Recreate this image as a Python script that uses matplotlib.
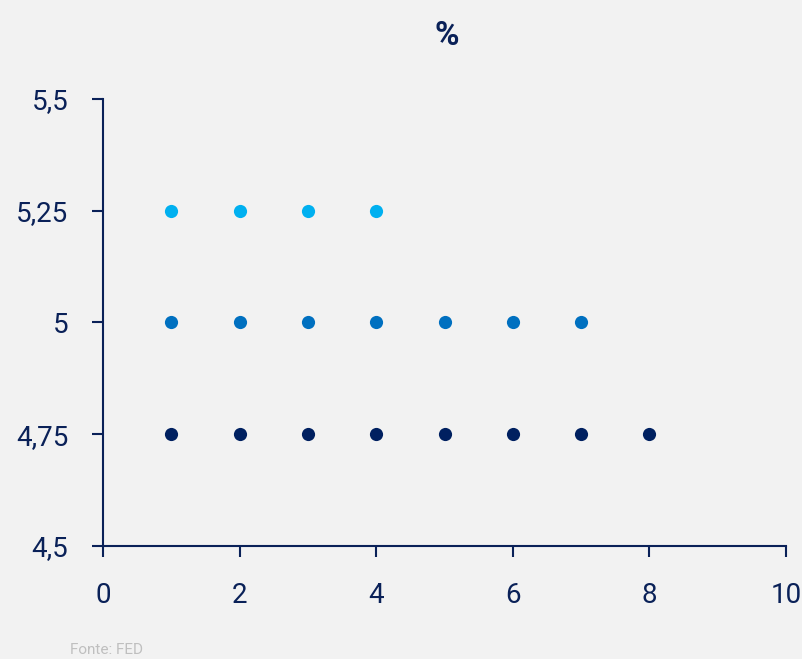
import matplotlib.pyplot as plt

# dados
x_475 = [1, 2, 3, 4, 5, 6, 7, 8]
y_475 = [4.75] * len(x_475)
x_500 = [1, 2, 3, 4, 5, 6, 7]
y_500 = [5.0] * len(x_500)
x_525 = [1, 2, 3, 4]
y_525 = [5.25] * len(x_525)

x_ticks = [0, 2, 4, 6, 8, 10]
y_ticks = [4.5, 4.75, 5.0, 5.25, 5.5]
y_tick_labels = ['4,5', '4,75', '5', '5,25', '5,5']

navy = '#0a2158'
bg = '#f2f2f2'

plt.rcParams['font.family'] = ['Roboto', 'DejaVu Sans']

fig = plt.figure(figsize=(8.03, 6.59), dpi=100, facecolor=bg)
ax = fig.add_axes([0.1283, 0.1715, 0.8505, 0.6783])
ax.set_facecolor(bg)

ax.scatter(x_475, y_475, s=90, color='#002060', zorder=3, linewidths=0)
ax.scatter(x_500, y_500, s=90, color='#0070c0', zorder=3, linewidths=0)
ax.scatter(x_525, y_525, s=90, color='#00b0f0', zorder=3, linewidths=0)

ax.set_xlim(0, 10)
ax.set_ylim(4.5, 5.5)
ax.set_xticks(x_ticks)
ax.set_yticks(y_ticks)
ax.set_yticklabels(y_tick_labels)

for side in ['top', 'right']:
    ax.spines[side].set_visible(False)
for side in ['left', 'bottom']:
    ax.spines[side].set_color(navy)
    ax.spines[side].set_linewidth(1.5)

ax.tick_params(axis='both', colors=navy, labelcolor=navy, labelsize=20,
               length=8, width=1.5, direction='out')
ax.tick_params(axis='x', pad=18)
ax.tick_params(axis='y', pad=17)

fig.text(0.5565, 0.945, '%', ha='center', va='center', fontsize=24,
         fontweight='bold', color=navy)
fig.text(0.087, 0.003, 'Fonte: FED', ha='left', va='bottom', fontsize=11,
         color='#bfbfbf')

fig.savefig('out.png', dpi=100, facecolor=bg)
